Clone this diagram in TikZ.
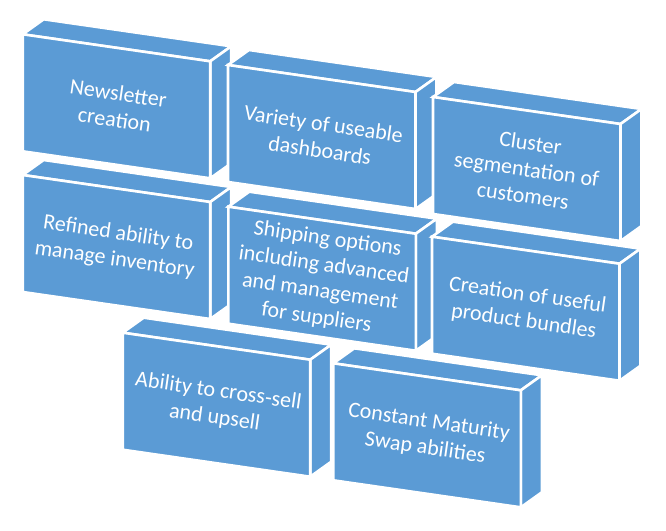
\documentclass[tikz,border=0pt]{standalone}
\usepackage{fontspec}
\setmainfont{Carlito}
\definecolor{boxblue}{RGB}{91,155,213}
\tikzset{
  face/.style={fill=boxblue, draw=white, line width=2.6pt, line join=miter},
  lbl/.style={text=white, align=center, rotate=-8.2, inner sep=0pt,
              font=\fontsize{22}{26.5}\selectfont}
}
\newcommand{\cubebox}[4]{%
  \begin{scope}[shift={(#1,#2)}]
    \filldraw[face] (0,0) -- (21,-15) -- (208.5,12) -- (187.5,27) -- cycle;
    \filldraw[face] (187.5,27) -- (208.5,12) -- (208.5,129) -- (187.5,144) -- cycle;
    \filldraw[face] (0,0) -- (187.5,27) -- (187.5,144) -- (0,117) -- cycle;
    \node[lbl] (#3) at (93.75,72) {#4};
  \end{scope}}
\begin{document}
\begin{tikzpicture}[x=1pt,y=-1pt]
\useasboundingbox[fill=white] (0,0) rectangle (666,530);
\cubebox{22.7}{34.3}{b1}{Newsletter\\creation}
\cubebox{228}{65}{b2}{Variety of useable\\dashboards}
\cubebox{433}{97}{b3}{Cluster\\segmentation of\\customers}
\cubebox{22.7}{175}{b4}{Refined ability to\\manage inventory}
\cubebox{228.3}{206.7}{b5}{Shipping options\\including advanced\\and management\\for suppliers}
\cubebox{432}{236.7}{b6}{Creation of useful\\product bundles}
\cubebox{122.7}{332.7}{b7}{Ability to cross-sell\\and upsell}
\cubebox{333.3}{363.3}{b8}{Constant Maturity\\Swap abilities}
\end{tikzpicture}
\end{document}
